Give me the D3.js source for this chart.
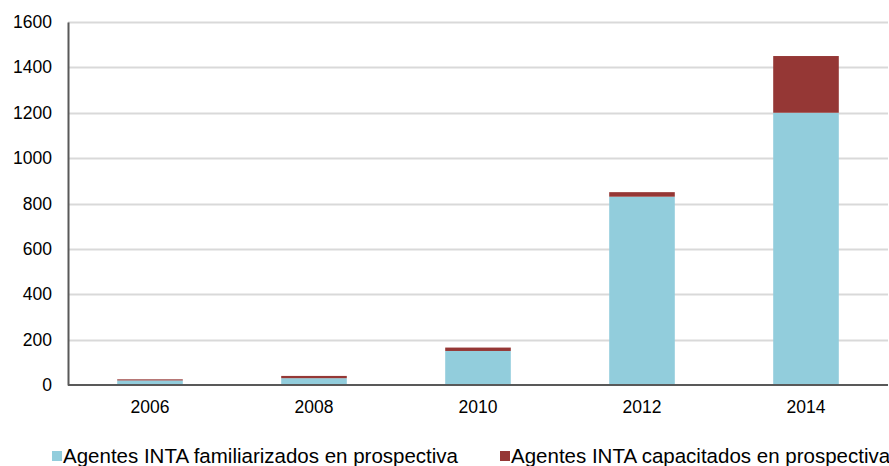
<!DOCTYPE html>
<html>
<head>
<meta charset="utf-8">
<script src="https://cdn.jsdelivr.net/npm/d3@7"></script>
<style>
  body { margin: 0; background: #fff; }
  svg text { font-family: "Liberation Sans", Arial, sans-serif; fill: #000; }
</style>
</head>
<body>
<div id="chart"></div>
<script>
  var years = ["2006", "2008", "2010", "2012", "2014"];
  var familiarizados = [20, 30, 150, 830, 1200];
  var capacitados = [5, 10, 15, 20, 250];
  var yTicks = [0, 200, 400, 600, 800, 1000, 1200, 1400, 1600];
  var seriesNames = ["Agentes INTA familiarizados en prospectiva", "Agentes INTA capacitados en prospectiva"];
  var seriesColors = ["#92cddc", "#953735"];

  var width = 889, height = 466;
  var pad = { top: 22, left: 68, right: 1, bottom: 81 };

  var svg = d3.select("#chart").append("svg")
    .attr("width", width)
    .attr("height", height);

  var x = d3.scaleBand()
    .domain(years)
    .range([pad.left, width - pad.right])
    .paddingInner(0.6)
    .paddingOuter(0.3);

  var y = d3.scaleLinear()
    .domain([0, 1600])
    .range([height - pad.bottom, pad.top]);

  // gridlines
  svg.append("g")
    .selectAll("line")
    .data(yTicks.slice(1))
    .enter().append("line")
    .attr("x1", pad.left)
    .attr("x2", width - pad.right)
    .attr("y1", function(d) { return Math.round(y(d)) + 0.5; })
    .attr("y2", function(d) { return Math.round(y(d)) + 0.5; })
    .attr("stroke", "#d9d9d9")
    .attr("stroke-width", 2);

  var data = years.map(function(yr, i) {
    return { year: yr, a: familiarizados[i], b: capacitados[i] };
  });
  var stack = d3.stack().keys(["a", "b"])(data);

  svg.append("g")
    .selectAll("g")
    .data(stack)
    .enter().append("g")
    .attr("fill", function(d, i) { return seriesColors[i]; })
    .selectAll("rect")
    .data(function(d) { return d; })
    .enter().append("rect")
    .attr("x", function(d) { return x(d.data.year); })
    .attr("width", x.bandwidth())
    .attr("y", function(d) { return y(d[1]); })
    .attr("height", function(d) { return y(d[0]) - y(d[1]); });

  // y axis
  var yAxis = svg.append("g")
    .attr("transform", "translate(" + pad.left + ",0)")
    .call(d3.axisLeft(y).tickValues(yTicks).tickSize(0).tickPadding(16).tickFormat(d3.format("d")));
  yAxis.select(".domain").attr("stroke", "#595959").attr("stroke-width", 2);
  yAxis.selectAll("text").style("font-size", "17.5px");

  // x axis
  var xAxis = svg.append("g")
    .attr("transform", "translate(0," + (height - pad.bottom) + ")")
    .call(d3.axisBottom(x).tickSize(0).tickPadding(16));
  xAxis.select(".domain").attr("stroke", "#595959").attr("stroke-width", 2)
    .attr("d", "M" + pad.left + ",0H" + (width - pad.right));
  xAxis.selectAll("text").style("font-size", "17.5px");

  // legend
  var legendX = [52, 500];
  var legend = svg.append("g").selectAll("g")
    .data(seriesNames)
    .enter().append("g")
    .attr("transform", function(d, i) { return "translate(" + legendX[i] + ",451)"; });
  legend.append("rect")
    .attr("width", 10)
    .attr("height", 10)
    .attr("fill", function(d, i) { return seriesColors[i]; });
  legend.append("text")
    .attr("x", 11)
    .attr("y", 12)
    .style("font-size", "20.5px")
    .text(function(d) { return d; });
</script>
</body>
</html>
